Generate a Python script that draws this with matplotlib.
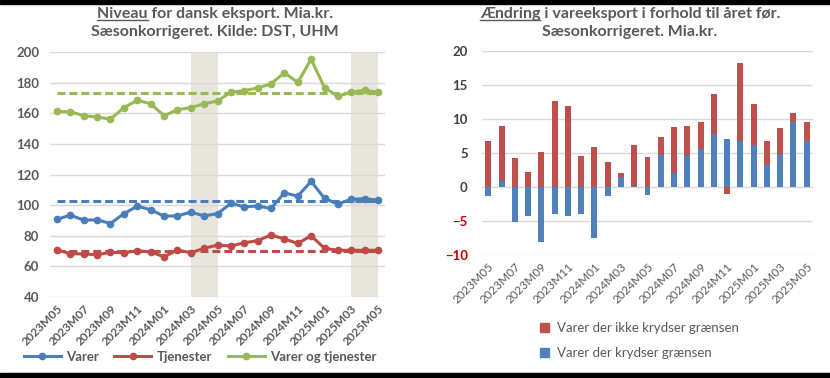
import matplotlib
matplotlib.use("Agg")
import matplotlib.pyplot as plt
from matplotlib.lines import Line2D
from matplotlib.patches import Patch, Rectangle
import numpy as np

plt.rcParams['font.family'] = ['Lato', 'DejaVu Sans']

months = ["2023M05", "2023M06", "2023M07", "2023M08", "2023M09", "2023M10", "2023M11",
          "2023M12", "2024M01", "2024M02", "2024M03", "2024M04", "2024M05", "2024M06",
          "2024M07", "2024M08", "2024M09", "2024M10", "2024M11", "2024M12", "2025M01",
          "2025M02", "2025M03", "2025M04", "2025M05"]

varer = [90.7, 93.5, 90.2, 90.4, 88.0, 94.4, 99.3, 97.0, 92.8, 93.0, 95.4, 93.0, 94.4,
         101.1, 98.9, 99.4, 97.8, 108.0, 105.9, 115.5, 104.4, 100.7, 103.9, 104.2, 103.3]
tjenester = [70.7, 68.3, 68.1, 67.6, 69.2, 68.9, 70.2, 69.4, 66.3, 70.7, 68.9, 71.8, 73.9,
             73.3, 75.4, 76.8, 80.5, 77.9, 75.0, 80.0, 71.8, 70.5, 70.5, 70.5, 70.5]
varer_tjenester = [161.2, 161.0, 158.4, 157.5, 156.2, 163.7, 168.4, 166.3, 158.4, 162.3,
                   163.7, 166.2, 168.0, 173.8, 174.8, 176.5, 179.2, 186.5, 180.1, 195.3,
                   176.7, 171.1, 173.8, 175.1, 173.7]

avg_varer = 102.8
avg_tjenester = 69.8
avg_varer_tjenester = 173.4

shade_periods = [("2024M03", "2024M05"), ("2025M03", "2025M05")]

krydser = [-1.4, 0.9, -5.2, -4.3, -8.1, -4.0, -4.3, -4.0, -7.5, -1.3, 1.5, 0.1, -1.2,
           4.7, 2.0, 4.6, 5.6, 7.8, 7.0, 6.7, 6.2, 3.2, 4.9, 9.5, 6.8]
ikke_krydser = [6.8, 8.1, 4.3, 2.2, 5.1, 12.6, 11.9, 4.6, 5.8, 3.6, 0.6, 6.1, 4.4,
                2.6, 6.8, 4.4, 3.9, 5.9, -1.0, 11.5, 5.9, 3.5, 3.8, 1.4, 2.7]

left_yticks = [40, 60, 80, 100, 120, 140, 160, 180, 200]
right_yticks = [-10, -5, 0, 5, 10, 15, 20]

left_title = ("Niveau", " for dansk eksport. Mia.kr.", "Sæsonkorrigeret. Kilde: DST, UHM")
right_title = ("Ændring", " i vareeksport i forhold til året før.", "Sæsonkorrigeret. Mia.kr.")

BLUE = "#4A7EBB"
RED = "#BE4B48"
GREEN = "#98B954"
GRAY = "#595959"
GRID = "#D9D9D9"
SHADE = "#E8E5DC"
BAR_BLUE = "#4F81BD"
BAR_RED = "#C0504D"

W, H = 830, 378
fig = plt.figure(figsize=(W / 100, H / 100), dpi=100)
fig.patch.set_facecolor("white")

# black bands top and bottom
fig.patches.append(Rectangle((0, 1 - 4 / H), 1, 4 / H, transform=fig.transFigure,
                             color="black", zorder=10))
fig.patches.append(Rectangle((0, 0), 1, 5 / H, transform=fig.transFigure,
                             color="black", zorder=10))


def px_axes(x0, y0, x1, y1):
    return fig.add_axes([x0 / W, 1 - y1 / H, (x1 - x0) / W, (y1 - y0) / H])


renderer = fig.canvas.get_renderer()


def title(cx, parts, size=11.5):
    first = parts[0] + parts[1]
    t1 = fig.text(cx / W, 1 - 14 / H, first, ha="center", va="center",
                  fontsize=size, fontweight="bold", color=GRAY)
    fig.text(cx / W, 1 - 32 / H, parts[2], ha="center", va="center",
             fontsize=size, fontweight="bold", color=GRAY)
    bb = t1.get_window_extent(renderer)
    tmp = fig.text(0, 0, parts[0], fontsize=size, fontweight="bold")
    wu = tmp.get_window_extent(renderer).width
    tmp.remove()
    x0 = bb.x0
    yline = bb.y0 + 1
    fig.add_artist(Line2D([x0 / W, (x0 + wu) / W], [yline / H, yline / H],
                          color=GRAY, lw=1.0))


x = np.arange(len(months))
tick_idx = x[::2]

# ---------- left chart ----------
ax = px_axes(50.3, 52, 384.7, 297)
ax.set_xlim(-0.5, len(months) - 0.5)
ax.set_ylim(40, 200)
for s in ax.spines.values():
    s.set_visible(False)
ax.set_yticks(left_yticks)
ax.yaxis.grid(True, color=GRID, lw=1.0)
ax.set_axisbelow(True)
ax.tick_params(axis="both", length=0, colors=GRAY)
for lbl in ax.get_yticklabels():
    lbl.set_fontweight("bold")
    lbl.set_fontsize(9.5)
ax.tick_params(axis="y", pad=8)
ax.set_xticks(tick_idx)
ax.set_xticklabels([months[i] for i in tick_idx], rotation=45, ha="right",
                   rotation_mode="anchor", fontsize=8.5, fontweight="bold", color=GRAY)
ax.tick_params(axis="x", pad=4)

for a, b in shade_periods:
    ax.axvspan(months.index(a), months.index(b), color=SHADE, lw=0, zorder=0)

for vals, avg, c in [(varer, avg_varer, BLUE), (tjenester, avg_tjenester, RED),
                     (varer_tjenester, avg_varer_tjenester, GREEN)]:
    ax.plot([x[0], x[-1]], [avg, avg], color=c, lw=2.2, dashes=(2.6, 1.3), zorder=2)
    ax.plot(x, vals, color=c, lw=2.2, marker="o", ms=4.5, zorder=3)

title(215, left_title)

handles = [Line2D([], [], color=c, lw=2.2, marker="o", ms=4.5) for c in (BLUE, RED, GREEN)]
leg = fig.legend(handles, ["Varer", "Tjenester", "Varer og tjenester"], ncol=3,
                 loc="center", bbox_to_anchor=(200 / W, 1 - 357 / H), frameon=False,
                 handlelength=2.8, columnspacing=1.2, handletextpad=0.4,
                 prop={"weight": "bold", "size": 9.5})
for t in leg.get_texts():
    t.set_color(GRAY)

# ---------- right chart ----------
ax2 = px_axes(481.7, 50.7, 813.3, 255)
ax2.set_xlim(-0.5, len(months) - 0.5)
ax2.set_ylim(-10, 20)
for s in ax2.spines.values():
    s.set_visible(False)
ax2.set_yticks(right_yticks)
ax2.yaxis.grid(True, color=GRID, lw=1.0)
ax2.set_axisbelow(True)
ax2.tick_params(axis="both", length=0, colors=GRAY)
ax2.tick_params(axis="y", pad=10)
for v, lbl in zip(right_yticks, ax2.get_yticklabels()):
    lbl.set_fontweight("bold")
    lbl.set_fontsize(9.5)
    lbl.set_color("#C00000" if v < 0 else "#404040")
ax2.set_xticks(tick_idx)
ax2.set_xticklabels([months[i] for i in tick_idx], rotation=45, ha="right",
                    rotation_mode="anchor", fontsize=8.5, color=GRAY)
ax2.tick_params(axis="x", pad=4)

kr = np.array(krydser)
ik = np.array(ikke_krydser)
bw = 0.45
# stacking like Excel: positives stacked up, negatives stacked down
ax2.bar(x, kr, bw, color=BAR_BLUE, zorder=3)
red_bottom = np.where(ik >= 0, np.where(kr > 0, kr, 0), np.where(kr < 0, kr, 0))
ax2.bar(x, ik, bw, bottom=red_bottom, color=BAR_RED, zorder=3)

title(630, right_title)

leg2 = fig.legend([Patch(color=BAR_RED), Patch(color=BAR_BLUE)],
                  ["Varer der ikke krydser grænsen", "Varer der krydser grænsen"],
                  loc="upper left", bbox_to_anchor=(528 / W, 1 - 310 / H), frameon=False,
                  handlelength=0.7, handleheight=0.7, handletextpad=0.6, labelspacing=1.0,
                  prop={"size": 9.5})
for t in leg2.get_texts():
    t.set_color(GRAY)

fig.savefig("out.png", dpi=100, facecolor="white")
